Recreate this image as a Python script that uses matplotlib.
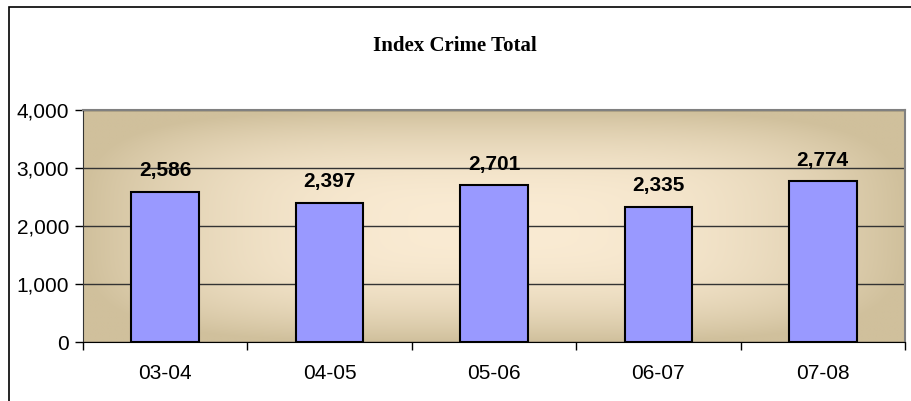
import numpy as np
import matplotlib.pyplot as plt
from matplotlib.patches import Rectangle
from matplotlib.colors import to_rgb

# Index crime totals by school year
years = ['03-04', '04-05', '05-06', '06-07', '07-08']
totals = [2586, 2397, 2701, 2335, 2774]
yticks = [0, 1000, 2000, 3000, 4000]

bar_color = '#9999FF'
center_col = np.array(to_rgb('#FAEBD3'))
edge_col = np.array(to_rgb('#D0C09C'))

fig = plt.figure(figsize=(9.12, 4.01), dpi=100)
ax = fig.add_axes([83 / 912, 59 / 401, 822 / 912, 232 / 401])

# outer chart border (cut off at right and bottom like the original)
fig.patches.append(Rectangle((9 / 912, -0.05), 1.0, (401 - 7) / 401 + 0.05,
                             transform=fig.transFigure, fill=False,
                             edgecolor='black', linewidth=1.2))

# gradient fill of the plot area
gx, gy = np.meshgrid(np.linspace(-1, 1, 400), np.linspace(-1, 1, 200))
t = (np.abs(gx) ** 4 + np.abs(gy) ** 4) ** 0.25
t = np.clip(t, 0, 1) ** 2.4
img = center_col[None, None, :] * (1 - t[..., None]) + edge_col[None, None, :] * t[..., None]
ax.imshow(img, extent=[-0.5, 4.5, 0, 4000], aspect='auto', zorder=0, interpolation='bilinear')

x = np.arange(len(years))
ax.bar(x, totals, width=0.41, color=bar_color, edgecolor='black', linewidth=1.5, zorder=3)
for xi, v in zip(x, totals):
    ax.text(xi, v + 200, f'{v:,}', ha='center', va='bottom', fontsize=15,
            fontweight='bold', family='Liberation Sans', zorder=4)

ax.set_xlim(-0.5, 4.5)
ax.set_ylim(0, 4000)
ax.set_yticks(yticks)
ax.set_yticklabels([f'{v:,}' for v in yticks], fontsize=15, family='Liberation Sans')
ax.set_xticks(x)
ax.set_xticklabels(years, fontsize=15, family='Liberation Sans')
ax.set_xticks(np.arange(-0.5, 5, 1), minor=True)
ax.tick_params(axis='x', which='major', length=0, pad=16)
ax.tick_params(axis='x', which='minor', length=6, width=1, color='black')
ax.tick_params(axis='y', length=6, width=1, color='black', pad=4)
ax.grid(axis='y', color='#333333', linewidth=1, zorder=1)
ax.set_axisbelow(True)
for s in ['top', 'right']:
    ax.spines[s].set_color('#808080')
    ax.spines[s].set_linewidth(1.5)
ax.spines['left'].set_color('#333333')
ax.spines['bottom'].set_color('black')

fig.text(455 / 912, 1 - 46 / 401, 'Index Crime Total', ha='center', va='center',
         fontsize=15, fontweight='bold', family='Liberation Serif')

fig.savefig('out.png', dpi=100)
